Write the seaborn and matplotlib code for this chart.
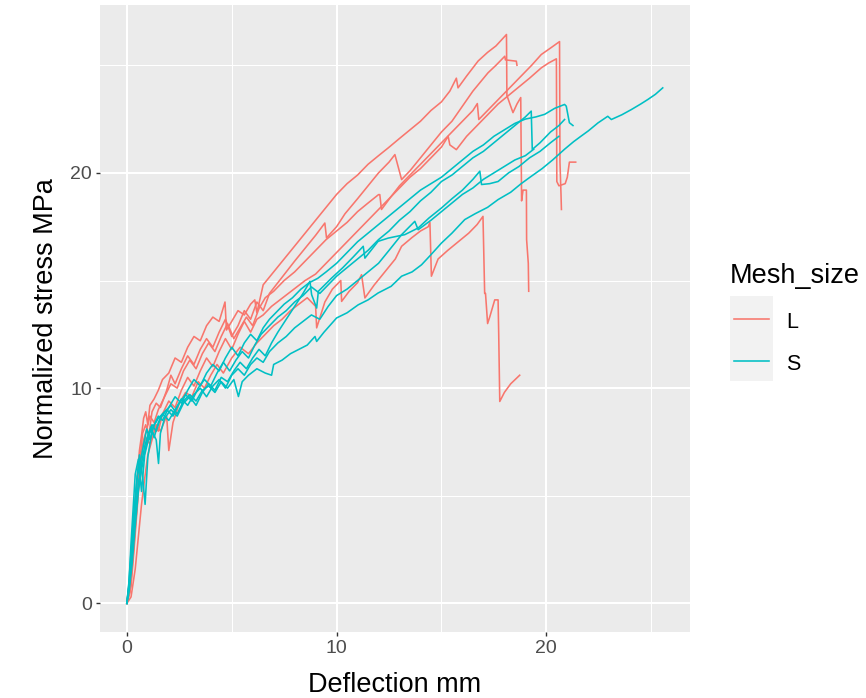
import matplotlib
matplotlib.use("Agg")
import matplotlib.pyplot as plt
from matplotlib.lines import Line2D
from matplotlib.patches import Rectangle
import seaborn as sns
import pandas as pd

# ---------------- data ----------------
groups = ["L", "S"]
x_ticks = [0, 10, 20]
y_ticks = [0, 10, 20]

L1_x = [0, 0.1, 0.2, 0.3, 0.4, 0.5, 0.6, 0.7, 0.8, 0.9, 1.0, 1.1, 1.3, 1.5, 1.7, 2.0, 2.3, 2.6, 2.9, 3.2,
        3.5, 3.8, 4.1, 4.4, 4.68, 4.75, 5.0, 5.3, 5.6, 5.9, 6.1, 6.2, 6.5, 7.0, 7.5, 8.0, 8.5, 9.0, 9.5, 10.0,
        10.5, 11.0, 11.5, 12.0, 12.46, 13.0, 13.5, 14.0, 14.5, 15.0, 15.4, 15.71, 15.79, 16.2, 16.75, 17.2, 17.6, 18.1, 18.12, 18.3,
        18.41, 18.6, 18.78, 18.82, 18.89, 19.05, 19.06, 19.14, 19.16]
L1_y = [0, 0.6, 1.9, 3.4, 4.8, 5.9, 7.1, 7.8, 8.6, 8.9, 8.3, 9.2, 9.5, 9.9, 10.4, 10.7, 11.4, 11.2, 11.9, 12.4,
        12.2, 12.9, 13.3, 13.1, 14.0, 12.7, 13.1, 13.6, 13.4, 13.9, 14.1, 13.5, 14.8, 15.4, 16.0, 16.6, 17.2, 17.8, 18.4, 19.0,
        19.5, 19.9, 20.4, 20.8, 21.16, 21.6, 22.0, 22.4, 22.9, 23.3, 23.8, 24.4, 23.95, 24.5, 25.2, 25.6, 25.9, 26.43, 23.6, 23.1,
        22.8, 23.2, 23.5, 18.7, 19.2, 19.2, 16.9, 15.8, 14.5]

L2_x = [0, 0.15, 0.3, 0.45, 0.6, 0.75, 0.9, 1.05, 1.2, 1.4, 1.6, 1.9, 2.1, 2.3, 2.6, 2.9, 3.2, 3.5, 3.8, 4.1,
        4.4, 4.7, 5.0, 5.3, 5.6, 5.9, 6.2, 6.5, 6.8, 7.2, 7.6, 8.0, 8.5, 9.0, 9.44, 9.52, 10.0, 10.4, 11.0, 11.5,
        12.0, 12.5, 12.78, 13.1, 13.5, 14.0, 14.5, 15.0, 15.5, 16.0, 16.5, 17.22, 17.6, 18.02, 18.05, 18.57, 18.6]
L2_y = [0, 1.2, 3.0, 5.2, 6.4, 7.9, 8.3, 7.8, 8.9, 9.3, 9.1, 9.9, 10.6, 10.2, 10.9, 11.5, 11.1, 11.8, 12.3, 11.9,
        12.6, 13.2, 12.4, 12.9, 13.6, 13.2, 14.0, 13.6, 14.4, 14.9, 15.4, 15.9, 16.5, 17.1, 17.67, 16.98, 17.5, 18.1, 18.8, 19.4,
        20.0, 20.5, 20.85, 19.69, 20.1, 20.7, 21.3, 21.9, 22.4, 23.1, 23.8, 24.65, 25.0, 25.42, 25.25, 25.19, 25.0]

L3_x = [0, 0.2, 0.35, 0.5, 0.65, 0.8, 0.95, 1.1, 1.3, 1.5, 1.8, 2.1, 2.4, 2.7, 3.0, 3.3, 3.6, 3.9, 4.2, 4.5,
        4.8, 5.1, 5.4, 5.7, 6.0, 6.3, 6.6, 7.0, 7.5, 8.0, 8.5, 9.0, 9.5, 10.0, 10.5, 11.0, 11.5, 12.0, 12.06, 12.14,
        12.6, 13.0, 13.5, 14.0, 14.5, 15.0, 15.5, 16.0, 16.5, 16.71, 16.78, 17.3, 17.8, 18.3, 18.8, 19.3, 19.76, 20.2, 20.63, 20.65,
        20.7, 20.72]
L3_y = [0, 0.8, 2.6, 4.5, 6.8, 7.6, 8.1, 8.7, 8.4, 9.0, 9.6, 10.2, 10.0, 10.8, 11.3, 10.9, 11.6, 12.1, 11.7, 12.4,
        13.0, 12.3, 12.8, 13.3, 12.9, 13.7, 14.2, 14.5, 15.0, 15.4, 15.9, 16.4, 16.9, 17.3, 17.7, 18.2, 18.6, 18.99, 18.99, 18.3,
        18.9, 19.4, 19.9, 20.4, 20.9, 21.4, 21.9, 22.4, 22.9, 23.22, 22.48, 23.0, 23.5, 24.0, 24.5, 25.0, 25.5, 25.8, 26.1, 20.5,
        19.0, 18.3]

L4_x = [0, 0.15, 0.3, 0.45, 0.6, 0.75, 0.9, 1.1, 1.3, 1.5, 1.7, 2.0, 2.3, 2.6, 2.9, 3.2, 3.5, 3.8, 4.1, 4.4,
        4.7, 5.0, 5.3, 5.6, 5.9, 6.2, 6.5, 6.9, 7.3, 7.7, 8.1, 8.5, 9.0, 9.5, 10.0, 10.5, 11.0, 11.5, 12.0, 12.5,
        13.0, 13.5, 14.0, 14.5, 15.0, 15.32, 15.4, 15.71, 16.2, 16.7, 17.2, 17.7, 18.2, 18.7, 19.2, 19.76, 20.1, 20.48, 20.5, 20.6,
        20.9, 21.0, 21.1, 21.4]
L4_y = [0, 0.5, 2.2, 4.1, 5.8, 7.2, 7.7, 7.4, 8.3, 8.0, 8.8, 9.4, 9.1, 9.9, 10.5, 10.1, 10.8, 11.4, 11.0, 11.7,
        12.3, 11.8, 12.5, 13.1, 12.6, 13.2, 13.4, 13.8, 14.1, 14.4, 14.7, 15.0, 15.3, 15.8, 16.3, 16.8, 17.3, 17.8, 18.3, 18.8,
        19.3, 19.8, 20.2, 20.7, 21.2, 21.7, 21.3, 21.08, 21.7, 22.2, 22.7, 23.2, 23.6, 24.0, 24.4, 24.88, 25.1, 25.3, 19.6, 19.4,
        19.5, 19.8, 20.5, 20.5]

L5_x = [0, 0.2, 0.4, 0.55, 0.7, 0.85, 1.0, 1.2, 1.4, 1.6, 1.9, 2.0, 2.2, 2.5, 2.8, 3.1, 3.4, 3.7, 4.0, 4.3,
        4.6, 5.0, 5.4, 5.8, 6.2, 6.6, 7.0, 7.4, 7.8, 8.2, 8.6, 9.0, 9.05, 9.44, 9.8, 10.2, 10.24, 10.6, 11.0, 11.19,
        11.35, 11.8, 12.3, 12.8, 13.1, 13.6, 14.0, 14.37, 14.45, 14.52, 14.84, 15.3, 15.8, 16.3, 16.7, 16.98, 17.06, 17.1, 17.2, 17.3,
        17.54, 17.7, 17.73, 17.78, 18.0, 18.3, 18.73]
L5_y = [0, 0.3, 1.6, 3.1, 4.6, 5.8, 6.9, 7.6, 8.3, 8.0, 8.7, 7.1, 8.4, 9.3, 9.8, 9.6, 10.3, 10.0, 10.6, 11.1,
        10.7, 11.4, 11.9, 11.6, 12.1, 12.5, 12.9, 13.2, 13.6, 13.9, 14.2, 13.8, 12.8, 14.0, 14.6, 15.0, 14.03, 14.5, 14.9, 15.27,
        14.19, 14.8, 15.4, 16.0, 16.59, 17.0, 17.3, 17.5, 17.7, 15.2, 16.0, 16.4, 16.8, 17.2, 17.6, 17.98, 14.4, 14.4, 13.0, 13.3,
        14.1, 14.1, 12.5, 9.38, 9.8, 10.2, 10.6]

S1_x = [0, 0.1, 0.25, 0.4, 0.55, 0.7, 0.85, 1.0, 1.2, 1.5, 1.8, 2.1, 2.4, 2.7, 3.0, 3.3, 3.6, 3.9, 4.2, 4.5,
        4.8, 5.1, 5.32, 5.5, 5.8, 6.2, 6.6, 6.9, 7.0, 7.4, 7.8, 8.2, 8.6, 8.97, 9.05, 9.4, 10.0, 10.5, 11.03, 11.5,
        11.98, 12.6, 13.1, 13.6, 14.05, 14.5, 15.0, 15.5, 16.11, 16.6, 17.2, 17.7, 18.3, 18.8, 19.28, 19.8, 20.3, 20.87, 21.3, 21.66,
        22.0, 22.46, 22.93, 23.1, 23.6, 24.05, 24.5, 24.84, 25.2, 25.55]
S1_y = [0, 0.7, 2.3, 4.2, 5.6, 6.5, 7.3, 7.8, 8.1, 8.6, 8.9, 9.2, 8.8, 9.4, 9.7, 9.4, 9.9, 10.1, 9.8, 10.3,
        10.0, 10.4, 9.61, 10.3, 10.6, 10.9, 10.7, 10.6, 11.1, 11.3, 11.6, 11.8, 12.0, 12.4, 12.17, 12.6, 13.26, 13.5, 13.87, 14.1,
        14.42, 14.73, 15.2, 15.4, 15.73, 16.2, 16.74, 17.2, 17.83, 18.1, 18.4, 18.76, 19.1, 19.5, 19.84, 20.2, 20.6, 21.1, 21.45, 21.71,
        21.95, 22.32, 22.63, 22.48, 22.7, 22.94, 23.2, 23.41, 23.65, 23.95]

S2_x = [0, 0.1, 0.2, 0.35, 0.5, 0.65, 0.8, 0.95, 1.1, 1.3, 1.5, 1.7, 2.0, 2.3, 2.6, 2.9, 3.2, 3.5, 3.8, 4.1,
        4.4, 4.7, 5.0, 5.3, 5.6, 5.9, 6.2, 6.5, 6.8, 7.1, 7.5, 7.9, 8.3, 8.7, 9.1, 9.5, 10.0, 10.5, 11.0, 11.5,
        12.0, 12.5, 13.0, 13.5, 14.0, 14.5, 15.0, 15.5, 16.0, 16.5, 17.0, 17.5, 18.0, 18.5, 19.0, 19.5, 19.92, 20.4, 20.87, 20.95,
        21.1, 21.27]
S2_y = [0, 1.0, 2.4, 4.0, 5.9, 6.6, 7.4, 8.1, 7.6, 8.3, 8.7, 8.5, 9.1, 9.6, 9.3, 9.9, 10.4, 10.1, 10.7, 11.1,
        10.8, 11.4, 11.9, 11.5, 12.1, 12.5, 12.2, 12.8, 13.2, 13.5, 13.9, 14.2, 14.6, 14.9, 15.1, 15.4, 15.8, 16.3, 16.8, 17.2,
        17.6, 18.0, 18.4, 18.8, 19.2, 19.5, 19.8, 20.2, 20.6, 21.0, 21.3, 21.7, 22.0, 22.3, 22.5, 22.6, 22.72, 23.0, 23.18, 23.1,
        22.33, 22.2]

S3_x = [0, 0.1, 0.25, 0.4, 0.55, 0.7, 0.85, 1.0, 1.2, 1.4, 1.6, 1.9, 2.2, 2.5, 2.8, 3.1, 3.4, 3.7, 4.0, 4.3,
        4.6, 4.9, 5.2, 5.5, 5.8, 6.1, 6.4, 6.8, 7.2, 7.6, 8.0, 8.4, 8.8, 9.2, 9.6, 10.0, 10.5, 11.0, 11.5, 12.0,
        12.5, 13.0, 13.5, 14.0, 14.5, 15.0, 15.5, 16.0, 16.5, 17.0, 17.5, 18.0, 18.5, 19.0, 19.28, 19.33, 19.7, 20.2, 20.6, 20.87]
S3_y = [0, 0.5, 1.8, 3.6, 5.2, 6.2, 7.0, 7.8, 8.3, 8.0, 8.6, 9.0, 8.7, 9.3, 9.7, 9.4, 10.0, 10.4, 10.1, 10.7,
        11.2, 10.8, 11.3, 11.7, 11.4, 12.0, 12.5, 12.9, 13.3, 13.6, 14.0, 14.3, 14.7, 14.4, 14.8, 15.2, 15.6, 16.0, 16.4, 16.9,
        17.3, 17.8, 18.2, 18.7, 19.1, 19.6, 19.9, 20.3, 20.7, 21.0, 21.4, 21.8, 22.2, 22.6, 22.87, 21.09, 21.4, 21.9, 22.2, 22.48]

S4_x = [0, 0.1, 0.2, 0.3, 0.45, 0.6, 0.75, 0.87, 1.0, 1.2, 1.4, 1.51, 1.6, 1.8, 2.1, 2.4, 2.7, 3.0, 3.3, 3.6,
        3.9, 4.2, 4.5, 4.8, 5.1, 5.4, 5.7, 6.0, 6.3, 6.6, 6.9, 7.2, 7.6, 8.0, 8.4, 8.73, 8.81, 9.05, 9.13, 9.76,
        10.3, 10.8, 11.27, 11.35, 11.98, 12.46, 13.25, 13.89, 14.4, 15.0, 15.5, 16.0, 16.5, 16.83, 16.91, 17.3, 17.7, 18.2, 18.7, 19.2,
        19.7, 20.2, 20.6]
S4_y = [0, 0.8, 2.1, 3.8, 5.5, 6.9, 5.9, 4.6, 6.8, 8.0, 7.6, 6.5, 7.9, 8.6, 9.0, 8.7, 9.3, 9.6, 9.2, 9.8,
        10.2, 9.9, 10.5, 10.3, 10.8, 11.2, 10.9, 11.4, 11.8, 11.5, 12.1, 12.6, 13.2, 13.8, 14.4, 14.96, 14.34, 13.72, 14.5, 15.11,
        15.6, 16.1, 16.59, 16.04, 16.82, 16.97, 17.13, 17.44, 17.9, 18.37, 18.8, 19.2, 19.7, 20.08, 19.46, 19.5, 19.6, 20.0, 20.3, 20.7,
        21.0, 21.4, 21.7]

S5_x = [0, 0.1, 0.2, 0.3, 0.4, 0.55, 0.7, 0.85, 1.0, 1.15, 1.3, 1.5, 1.7, 2.0, 2.3, 2.6, 2.9, 3.2, 3.5, 3.8,
        4.1, 4.4, 4.7, 5.0, 5.3, 5.6, 5.9, 6.2, 6.5, 6.8, 7.2, 7.6, 8.0, 8.4, 8.8, 9.2, 9.6, 10.0, 10.5, 11.0,
        11.5, 12.0, 12.5, 13.1, 13.73, 13.89, 14.5, 15.0, 15.5, 16.0, 16.5, 17.0, 17.5, 18.0, 18.5, 19.0, 19.4]
S5_y = [0, 0.9, 2.8, 4.4, 6.0, 6.7, 5.2, 6.9, 7.5, 8.2, 7.7, 8.4, 8.8, 8.5, 9.0, 9.5, 9.2, 9.7, 10.0, 9.6,
        10.1, 10.4, 10.0, 10.6, 10.9, 10.6, 11.1, 11.4, 11.2, 11.7, 12.1, 12.4, 12.8, 13.1, 13.4, 13.2, 13.8, 14.3, 14.6, 15.0,
        15.4, 15.8, 16.4, 17.13, 17.75, 17.36, 17.8, 18.2, 18.6, 19.0, 19.3, 19.7, 20.0, 20.3, 20.6, 20.8, 21.1]

curves = [
    ("L1", "L", L1_x, L1_y), ("L2", "L", L2_x, L2_y), ("L3", "L", L3_x, L3_y),
    ("L4", "L", L4_x, L4_y), ("L5", "L", L5_x, L5_y),
    ("S1", "S", S1_x, S1_y), ("S2", "S", S2_x, S2_y), ("S3", "S", S3_x, S3_y),
    ("S4", "S", S4_x, S4_y), ("S5", "S", S5_x, S5_y),
]

rows = []
for name, grp, xs, ys in curves:
    assert len(xs) == len(ys), (name, len(xs), len(ys))
    for a, b in zip(xs, ys):
        rows.append({"curve": name, "Mesh_size": grp, "x": a, "y": b})
df = pd.DataFrame(rows)

# ---------------- styling ----------------
plt.rcParams["font.family"] = ["Liberation Sans", "DejaVu Sans"]
palette = {"L": "#F8766D", "S": "#00BFC4"}

W, H = 866, 698
fig = plt.figure(figsize=(W / 100, H / 100), dpi=100)
ax = fig.add_axes([100 / W, 1 - 632 / H, 590 / W, 627 / H])
ax.set_facecolor("#EBEBEB")
for s in ax.spines.values():
    s.set_visible(False)

sns.lineplot(data=df, x="x", y="y", hue="Mesh_size", units="curve", estimator=None,
             sort=False, palette=palette, hue_order=groups, lw=1.15, legend=False, ax=ax)

ax.set_xlim(-1.28, 26.85)
ax.set_ylim(-1.33, 27.8)
ax.set_xticks(x_ticks)
ax.set_yticks(y_ticks)
ax.set_xticks([5, 15, 25], minor=True)
ax.set_yticks([5, 15, 25], minor=True)
ax.grid(which="major", color="white", lw=1.5)
ax.grid(which="minor", color="white", lw=0.75)
ax.set_axisbelow(True)
ax.tick_params(which="major", length=3.2, width=1.0, color="#333333",
               labelsize=14, labelcolor="#4D4D4D", pad=2.5)
ax.tick_params(which="minor", length=0)

ax.set_xlabel("Deflection mm", fontsize=19.5, color="black", labelpad=11)
ax.set_ylabel("Normalized stress MPa", fontsize=19.5, color="black", labelpad=8)

# ---------------- legend (ggplot style) ----------------
def fx(px):
    return px / W

def fy(py):
    return 1 - py / H

fig.text(fx(730), fy(283), "Mesh_size", fontsize=19.5, ha="left", va="baseline")
fig.add_artist(Rectangle((fx(730), fy(381)), 43 / W, 85 / H, transform=fig.transFigure,
                         facecolor="#F2F2F2", edgecolor="none"))
for g, py, base in zip(groups, [318.5, 360.5], [328.5, 370]):
    fig.add_artist(Line2D([fx(734), fx(769)], [fy(py), fy(py)], transform=fig.transFigure,
                          color=palette[g], lw=1.15))
    fig.text(fx(786), fy(base), g, fontsize=15.5, ha="left", va="baseline", color="black")

fig.savefig("out.png", dpi=100)
